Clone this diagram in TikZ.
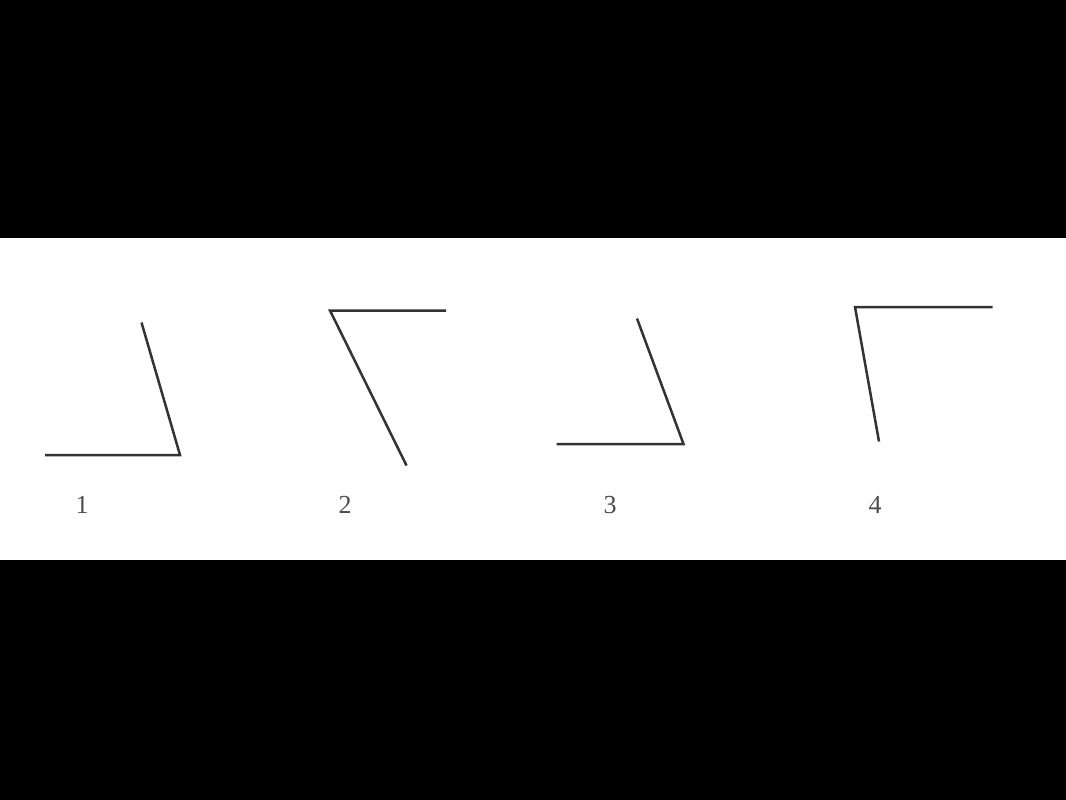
\documentclass[tikz,border=0pt]{standalone}
\usepackage{fontspec}
\setmainfont{Liberation Serif}
\usepackage{tikz}
\usetikzlibrary{positioning}
\definecolor{stroke}{rgb}{.2,.2,.2}
\definecolor{numgray}{rgb}{.3,.3,.3}

\begin{document}
\begin{tikzpicture}[x=1pt,y=-1pt,% one unit is one pixel of the reference, y grows downwards
					every node/.style={
						text=numgray,		% the figure numbers
						font=\fontsize{26}{30}\selectfont
						},
					leg/.style={draw=stroke,line width=2.5pt,line cap=butt,line join=miter}
					]
% bands and white strip
\fill[black] (0,0) rectangle (1066,238);
\fill[white] (0,238) rectangle (1066,560);
\fill[black] (0,560) rectangle (1066,800);
\useasboundingbox (0,0) rectangle (1066,800);
% corner points of the four angles
\coordinate (A1) at (45,455);   \coordinate (C1) at (180,455);  \coordinate (B1) at (141.5,322.5);
\coordinate (A2) at (446,310.5);\coordinate (C2) at (330,310.5);\coordinate (B2) at (406.5,465.5);
\coordinate (A3) at (556.5,444);\coordinate (C3) at (683.5,444);\coordinate (B3) at (637,318.5);
\coordinate (A4) at (992.5,307);\coordinate (C4) at (855,307);  \coordinate (B4) at (879,441.5);
% angles
\foreach \i in {1,...,4}
	\draw[leg] (A\i) -- (C\i) -- (B\i);
% numbers
\node (n1) at (82,505) {1};
\node (n2) at (345,505) {2};
\node (n3) at (610,505) {3};
\node (n4) at (875,505) {4};
\end{tikzpicture}
\end{document}
